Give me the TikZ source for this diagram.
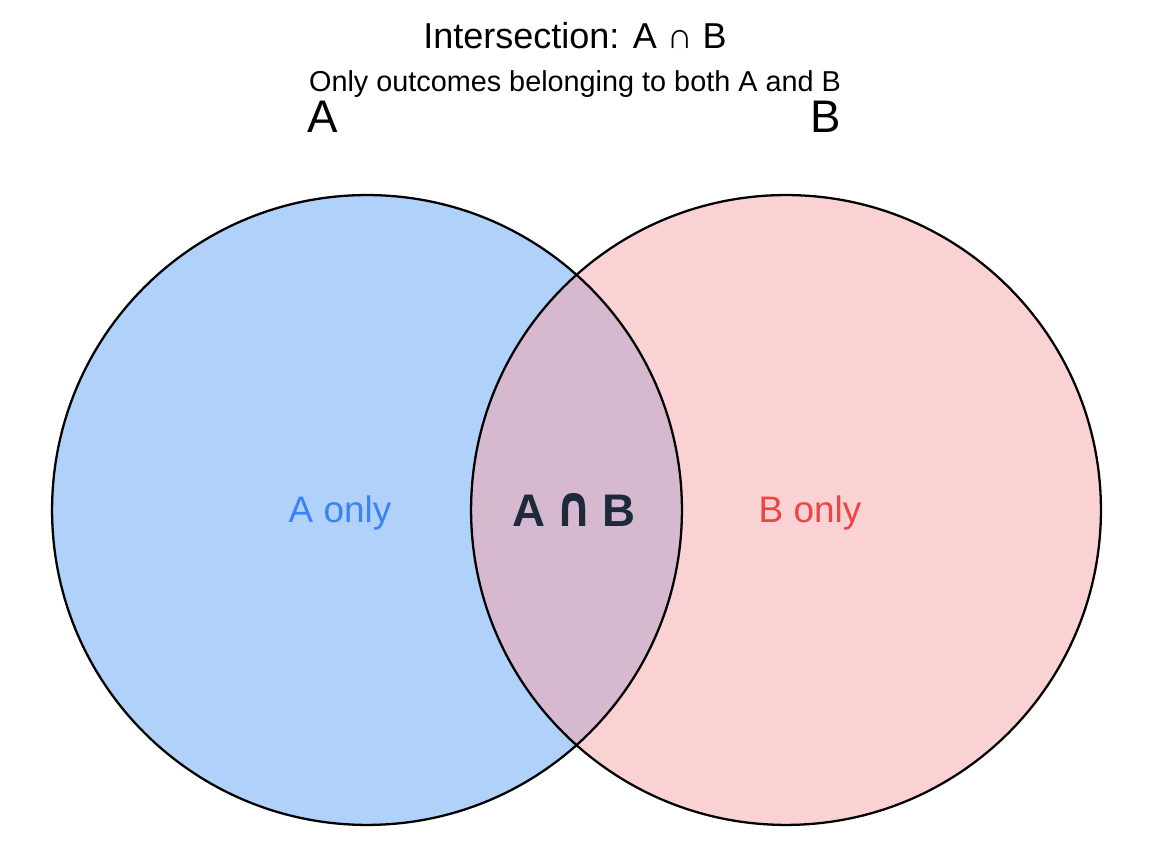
\documentclass[tikz,border=0pt]{standalone}
\usepackage{fontspec}
\setmainfont{Liberation Sans}
\newfontfamily\symfont{DejaVu Sans}
\definecolor{fillA}{HTML}{AFD1FA}
\definecolor{fillB}{HTML}{FAD2D3}
\definecolor{fillAB}{HTML}{D6B9CF}
\definecolor{textA}{HTML}{3B82F6}
\definecolor{textB}{HTML}{EF4444}
\definecolor{textAB}{HTML}{1E293B}
\begin{document}
\begin{tikzpicture}[x=0.02cm,y=0.02cm,line cap=round,line join=round]
  \tikzset{ring/.style={draw=black,line width=1.3pt,fill=none},
    region/.style={anchor=base,font=\fontsize{21}{25}\selectfont}}
  \useasboundingbox (0,0) rectangle (1152,864);
  \coordinate (cA) at (367,354);
  \coordinate (cB) at (786,354);
  % Fills first, the lens on top, then both outlines.
  \fill[fillA] (cA) circle[radius=6.3cm];
  \fill[fillB] (cB) circle[radius=6.3cm];
  \begin{scope}
    \clip (cA) circle[radius=6.3cm];
    \fill[fillAB] (cB) circle[radius=6.3cm];
  \end{scope}
  \draw[ring] (cA) circle[radius=6.3cm];
  \draw[ring] (cB) circle[radius=6.3cm];
  \node[anchor=base,font=\fontsize{20.5}{24}\selectfont] (title) at (575,815) {Intersection: A ∩ B};
  \node[anchor=base,font=\fontsize{16.4}{19}\selectfont] (subtitle) at (575,772) {Only outcomes belonging to both A and B};
  \node[anchor=base,font=\fontsize{26}{30}\selectfont] (labA) at (323,731) {A};
  \node[anchor=base,font=\fontsize{26}{30}\selectfont] (labB) at (826,731) {B};
  \node[region,text=textA] (onlyA) at (340,341) {A only};
  \node[region,text=textB] (onlyB) at (810,341) {B only};
  \node[anchor=base,text=textAB,font=\fontsize{26}{30}\selectfont\bfseries] (both) at (574,337) {A\hspace{0.22em}{\symfont\scalebox{1}[1.25]{∩}}\hspace{0.22em}B};
\end{tikzpicture}
\end{document}
